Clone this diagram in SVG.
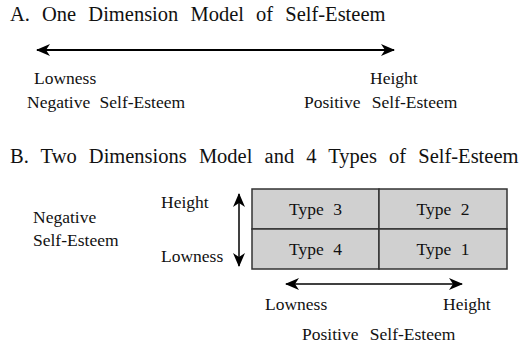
<svg xmlns="http://www.w3.org/2000/svg" width="523" height="347" viewBox="0 0 523 347">
<style>
text{font-family:"Liberation Serif","Times New Roman",serif;fill:#111;font-size:17.5px;word-spacing:5px}
.title{font-size:20.5px;word-spacing:7px}
.wide{word-spacing:7px}
.mid{text-anchor:middle}
.cell{fill:#d0d0d0;stroke:#333;stroke-width:1.5}
.conn{stroke:#000;fill:none}
</style>
<defs>
<marker id="ah" viewBox="0 0 14 12" refX="13" refY="6" markerWidth="14" markerHeight="12" markerUnits="userSpaceOnUse" orient="auto-start-reverse">
<path d="M0,0 L14,6 L0,12 L4,6 z" fill="#000"/>
</marker>
</defs>
<g id="titleA"><text class="title" x="10" y="21">A. One Dimension Model of Self-Esteem</text></g>
<g id="labelsA">
<text x="34" y="84">Lowness</text>
<text x="27" y="108">Negative Self-Esteem</text>
<text x="370" y="84">Height</text>
<text class="wide" x="304" y="108">Positive Self-Esteem</text>
</g>
<g id="titleB"><text class="title" x="10" y="163">B. Two Dimensions Model and 4 Types of Self-Esteem</text></g>
<g id="labelsB">
<text x="33" y="223">Negative</text>
<text x="33" y="246">Self-Esteem</text>
<text x="161" y="208">Height</text>
<text x="161" y="262">Lowness</text>
<text x="265" y="310">Lowness</text>
<text x="443" y="310">Height</text>
<text class="wide" x="302" y="340">Positive Self-Esteem</text>
</g>
<g id="type3"><rect class="cell" x="252" y="189" width="127" height="40"/><text class="mid" x="315.5" y="215">Type 3</text></g>
<g id="type2"><rect class="cell" x="379" y="189" width="128" height="40"/><text class="mid" x="443" y="215">Type 2</text></g>
<g id="type4"><rect class="cell" x="252" y="229" width="127" height="40"/><text class="mid" x="315.5" y="255">Type 4</text></g>
<g id="type1"><rect class="cell" x="379" y="229" width="128" height="40"/><text class="mid" x="443" y="255">Type 1</text></g>
<g id="connectors">
<line class="conn" x1="37" y1="50" x2="394" y2="50" stroke-width="2" marker-start="url(#ah)" marker-end="url(#ah)"/>
<line class="conn" x1="239" y1="194" x2="239" y2="266" stroke="#444" stroke-width="1.5" marker-start="url(#ah)" marker-end="url(#ah)"/>
<line class="conn" x1="286" y1="284" x2="462" y2="284" stroke-width="1.5" marker-start="url(#ah)" marker-end="url(#ah)"/>
</g>
</svg>
